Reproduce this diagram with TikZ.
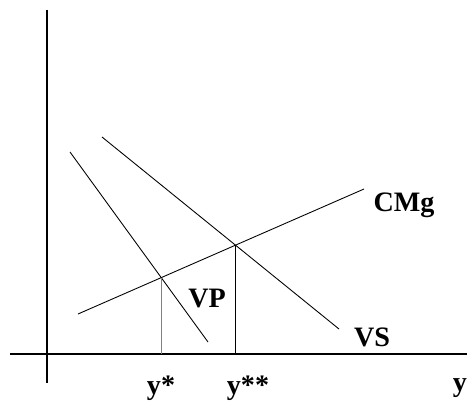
\documentclass[tikz,border=0pt]{standalone}
\usepackage{fontspec}
\setmainfont{Liberation Serif}
\begin{document}
\begin{tikzpicture}[x=0.02cm, y=-0.02cm, every node/.style={font=\bfseries\fontsize{16}{18}\selectfont, inner sep=1pt}]
        \useasboundingbox (0,0) rectangle (467,406);
        \coordinate (o1) at (47,10);
        \coordinate (o2) at (47,383);
        \coordinate (h1) at (10,354);
        \coordinate (h2) at (467,354);
        \coordinate (vp1) at (70,152);
        \coordinate (vp2) at (208,342);
        \coordinate (vs1) at (102,137);
        \coordinate (vs2) at (339,329);
        \coordinate (cm1) at (78,314);
        \coordinate (cm2) at (364,189);
        \coordinate (e1) at (161,278);
        \coordinate (e2) at (235,245);
        \coordinate (a1) at (161,354);
        \coordinate (a2) at (235,354);
        \draw[line width=0.6pt] (o1) -- (o2);
        \draw[line width=0.6pt] (h1) -- (h2);
        \draw[line width=0.5pt] (vp1) -- (vp2);
        \draw[line width=0.5pt] (vs1) -- (vs2);
        \draw[line width=0.5pt] (cm1) -- (cm2);
        \draw[gray, line width=0.4pt] (e1) -- (a1);
        \draw[line width=0.5pt] (e2) -- (a2);
        \node (lcm) at (404,205) {CMg};
        \node (lvp) at (207,299) {VP};
        \node (lvs) at (372,337) {VS};
        \node (ly1) at (161,388) {y*};
        \node (ly2) at (248,388) {y**};
        \node (ly) at (460,388) {y};
    \end{tikzpicture}
\end{document}
